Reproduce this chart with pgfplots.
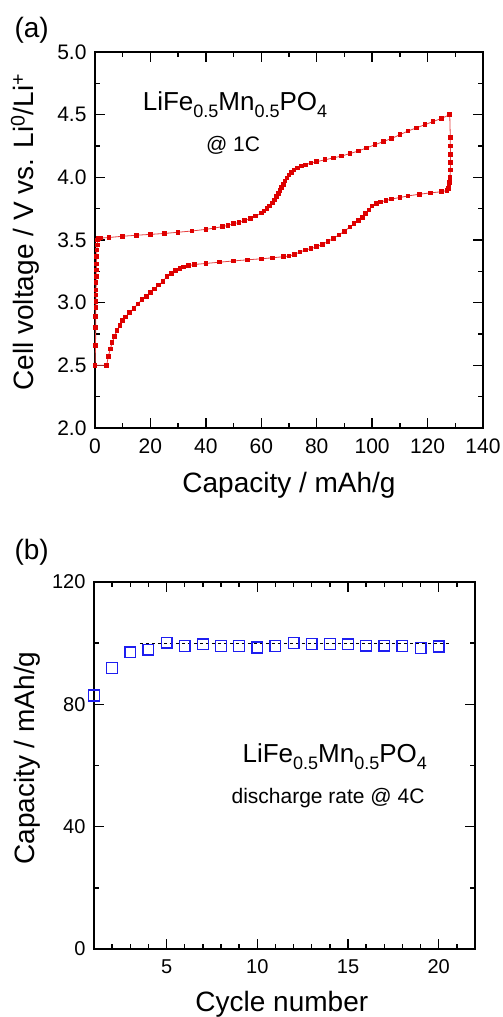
\documentclass[border=0pt]{standalone}
\usepackage{fontspec}
\setmainfont{Liberation Sans}
\usepackage{pgfplots}
\pgfplotsset{compat=1.18}
\definecolor{curvered}{RGB}{222,0,0}
\definecolor{sqblue}{RGB}{30,30,240}
\newcommand{\fs}[1]{\fontsize{#1}{#1}\selectfont}
\newcommand{\sub}[1]{\raisebox{-0.28em}{\fs{18}#1}}

\begin{document}
\begin{tikzpicture}
\useasboundingbox (0pt,0pt) rectangle (503pt,-1017pt);
\pgfplotsset{every axis/.append style={
    scale only axis,
    axis line style={line width=1.5pt},
    tick style={black, line width=1.5pt},
    major tick length=10pt, minor tick length=5pt,
    tick align=inside, xtick pos=both, ytick pos=both,
    /pgf/number format/assume math mode=true,
    label style={font=\fs{28}},
    xticklabel style={yshift=-7pt},
    yticklabel style={xshift=-5pt},
}}
\node[anchor=west, font=\fs{28}] at (11pt,-30pt) {(a)};
\node[anchor=west, font=\fs{28}] at (11pt,-552pt) {(b)};

% (a) charge / discharge curve
\begin{axis}[
    at={(95pt,-52pt)}, anchor=north west,
    width=388pt, height=376pt,
    xmin=0, xmax=140, ymin=2, ymax=5,
    xtick={0,20,...,140}, minor x tick num=1,
    ytick={2,2.5,...,5}, minor y tick num=1,
    tick label style={font=\fs{21}},
    yticklabel style={/pgf/number format/.cd, fixed, fixed zerofill, precision=1},
    xlabel={Capacity / mAh/g},
    ylabel={Cell voltage / V vs. Li\textsuperscript{0}/Li\textsuperscript{+}},
    xlabel style={at={(axis description cs:0.5,-0.152)}, anchor=center},
    ylabel style={at={(axis description cs:-0.180,0.521)}, anchor=center},
]
\addplot[curvered!75, line width=0.8pt, mark=square*, mark size=1.8pt,
         mark options={curvered, line width=0pt}]
  coordinates {
  (0,2.50) (0.2,2.66) (0.25,2.80) (0.28,2.89) (0.3,2.96) (0.32,3.01) (0.35,3.06)
  (0.38,3.10) (0.42,3.16) (0.46,3.21) (0.5,3.26) (0.55,3.31) (0.6,3.37) (0.7,3.42)
  (0.8,3.46) (1.0,3.50) (1.3,3.51) (2,3.515) (5,3.52) (10,3.53) (15,3.538)
  (20,3.545) (25,3.552) (30,3.562) (35,3.572) (40,3.585) (43,3.595) (46,3.607)
  (48,3.617) (50,3.63) (52,3.64) (54,3.655) (56,3.67) (58,3.69) (60,3.715)
  (61,3.73) (62,3.75) (63,3.77) (64,3.795) (64.8,3.82) (65.5,3.845) (66.2,3.87)
  (66.8,3.895) (67.4,3.92) (68,3.945) (68.6,3.97) (69.3,3.995) (70,4.02)
  (70.8,4.04) (71.8,4.06) (73,4.075) (74.5,4.09) (76,4.10) (78,4.115) (80,4.125)
  (83,4.14) (86,4.155) (89,4.17) (92,4.19) (95,4.21) (98,4.235) (101,4.26)
  (104,4.285) (107,4.31) (110,4.34) (113,4.37) (116,4.395) (119,4.42)
  (122,4.445) (125,4.47) (128,4.50)
  (128.2,4.32) (128.2,4.25) (128.3,4.18) (128.3,4.12) (128.2,4.06) (128.1,4.00)
  (128.0,3.96) (127.8,3.93) (127.5,3.91) (127,3.895) (125,3.885) (121,3.876)
  (117,3.865) (113,3.852) (110,3.839) (107,3.827) (105,3.815) (103,3.803)
  (101.5,3.79) (100,3.77) (98.8,3.74) (97.7,3.71) (96.5,3.68) (95,3.655)
  (93.5,3.63) (92,3.605) (90,3.57) (88,3.54) (86,3.513) (84,3.488) (82,3.465)
  (80,3.446) (78,3.432) (76,3.42) (74,3.405) (72,3.385) (70,3.372) (68,3.367)
  (64,3.358) (60,3.35) (55,3.342) (50,3.333) (45,3.323) (40,3.313) (36,3.305)
  (33.7,3.295) (32,3.285) (30.7,3.274) (29,3.255) (27.5,3.235) (26,3.21)
  (24.5,3.17) (23,3.14) (21.5,3.11) (20,3.08) (18.5,3.05) (17,3.025) (15.5,2.99)
  (14,2.955) (12.5,2.92) (11,2.885) (10,2.86) (9,2.82) (8,2.78) (7,2.73)
  (6.2,2.68) (5.5,2.63) (4.8,2.57) (4.2,2.50) (0,2.50)
  };
\node[anchor=base, font=\fs{26}] at (axis cs:50.5,4.534)
  {LiFe\sub{0.5}Mn\sub{0.5}PO\sub{4}};
\node[anchor=base, font=\fs{21}] at (axis cs:49.8,4.21) {@\ 1C};
\end{axis}

% (b) cycling
\begin{axis}[
    at={(94pt,-582pt)}, anchor=north west,
    width=381pt, height=367pt,
    xmin=1, xmax=22, ymin=0, ymax=120,
    xtick={5,10,15,20}, minor xtick={1,...,22},
    ytick={0,40,80,120}, minor ytick={20,60,100},
    tick label style={font=\fs{20}},
    xlabel={Cycle number},
    ylabel={Capacity / mAh/g},
    xlabel style={at={(axis description cs:0.493,-0.150)}, anchor=center},
    ylabel style={at={(axis description cs:-0.176,0.520)}, anchor=center},
]
\addplot[black, line width=0.6pt, dashed] coordinates {(3.53,100) (20.56,100)};
\addplot[only marks, mark=square*, mark size=5.4pt,
         mark options={draw=sqblue, fill=white, fill opacity=0, line width=1.3pt}]
  coordinates {
  (1,82.9) (2,91.9) (3,97.0) (4,97.9) (5,100.2) (6,99.0) (7,99.6) (8,99.0)
  (9,99.0) (10,98.6) (11,99.0) (12,100.1) (13,99.8) (14,99.8) (15,99.6)
  (16,99.2) (17,99.2) (18,99.0) (19,98.5) (20,98.9)
  };
\node[anchor=base, font=\fs{26}] at (axis cs:14.27,61.1)
  {LiFe\sub{0.5}Mn\sub{0.5}PO\sub{4}};
\node[anchor=base, font=\fs{21}] at (axis cs:13.9,47.5) {discharge rate\ @\ 4C};
\end{axis}
\end{tikzpicture}
\end{document}
